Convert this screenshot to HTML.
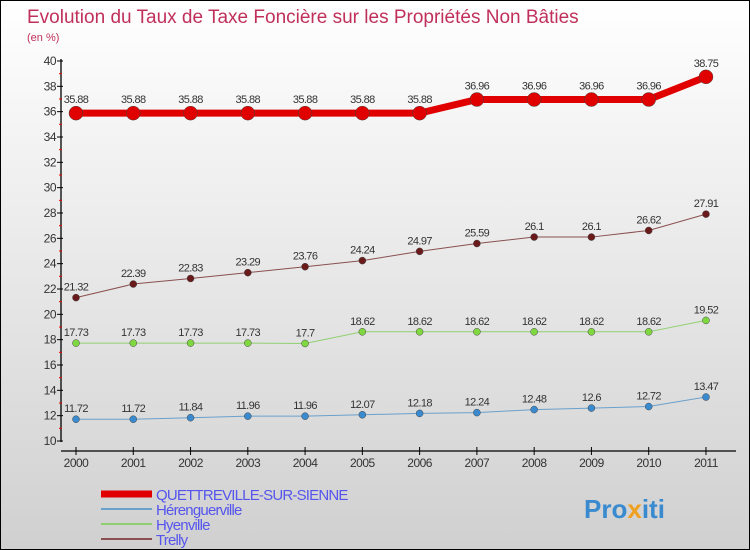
<!DOCTYPE html>
<html><head><meta charset="utf-8"><style>
body{margin:0}
#c{width:750px;height:550px;position:relative;box-sizing:border-box;border:1px solid #000;background:linear-gradient(#ffffff,#d0d0d0);font-family:"Liberation Sans",sans-serif;overflow:hidden}
svg{position:absolute;left:0;top:0}
</style></head><body>
<div id="c">
<svg id="s" width="750" height="550">
<text x="26" y="22" font-size="19" fill="#c0305a">Evolution du Taux de Taxe Foncière sur les Propriétés Non Bâties</text>
<text x="26" y="40" font-size="11" fill="#c0305a">(en %)</text>
<text x="583" y="517" font-size="26" font-weight="bold" fill="#3a8ad0">Pro<tspan fill="#f0a020">x</tspan>iti</text>
</svg>
</div>
<script>
const years=[2000,2001,2002,2003,2004,2005,2006,2007,2008,2009,2010,2011];
const names=["QUETTREVILLE-SUR-SIENNE","Hérenguerville","Hyenville","Trelly"];
const quettre=[35.88,35.88,35.88,35.88,35.88,35.88,35.88,36.96,36.96,36.96,36.96,38.75];
const heren=[11.72,11.72,11.84,11.96,11.96,12.07,12.18,12.24,12.48,12.6,12.72,13.47];
const hyen=[17.73,17.73,17.73,17.73,17.7,18.62,18.62,18.62,18.62,18.62,18.62,19.52];
const trelly=[21.32,22.39,22.83,23.29,23.76,24.24,24.97,25.59,26.1,26.1,26.62,27.91];
const yTicks=[10,12,14,16,18,20,22,24,26,28,30,32,34,36,38,40];
const NS="http://www.w3.org/2000/svg";
const s=document.getElementById('s');
const X=i=>75+i*57.27;
const Y=v=>440-(v-10)*12.667;
function mk(t,a,p){const e=document.createElementNS(NS,t);for(const k in a)e.setAttribute(k,a[k]);(p||s).appendChild(e);return e;}
// axes
let e=mk('line',{x1:60,y1:58,x2:60,y2:441,stroke:'#000','stroke-width':1.3});


e=mk('line',{x1:60,y1:450,x2:735,y2:450,stroke:'#000','stroke-width':1.3});


yTicks.forEach((v,i)=>{
  mk('line',{x1:56,y1:Y(v),x2:62,y2:Y(v),stroke:'#000'});
  mk('line',{x1:58,y1:Y(v+1),x2:61,y2:Y(v+1),stroke:'#e00'}).setAttribute('visibility',v<40?'visible':'hidden');
  const t=mk('text',{x:55,y:Y(v)+4,'font-size':12,fill:'#333','text-anchor':'end','letter-spacing':'-0.5'});
  t.textContent=v;
  
  
});
years.forEach((y,i)=>{
  mk('line',{x1:X(i),y1:446,x2:X(i),y2:454,stroke:'#000'});
  const t=mk('text',{x:X(i),y:466,'font-size':12,fill:'#333','text-anchor':'middle','letter-spacing':'-0.5'});
  t.textContent=y;
  
  
});
const series=[[trelly,'#6a1a1a','#8a5050',1,3.5,'trelly'],[hyen,'#80d840','#90d070',1,3.5,'hyenville'],[heren,'#3a8ad0','#6aa0cc',1,3.5,'herenguerville'],[quettre,'#e00000','#e00000',7,7,'quettreville']];
series.forEach(([d,dot,ln,w,r,n])=>{
  const p=mk('polyline',{points:d.map((v,i)=>X(i)+','+Y(v)).join(' '),fill:'none',stroke:ln,'stroke-width':w});
  
  
  d.forEach((v,i)=>{
    const c=mk('circle',{cx:X(i),cy:Y(v),r:r,fill:dot,stroke:'#444','stroke-width':0.5});
    
    
    const t=mk('text',{x:X(i),y:Y(v)-(n=='quettreville'?10:7),'font-size':11,fill:'#333','text-anchor':'middle','letter-spacing':'-0.6'});
    t.textContent=v;
    
    
  });
});
const lc=['#e00000','#6aa0cc','#90d070','#8a5050'],lw=[7,2,2,2];
names.forEach((n,i)=>{
  const y=493+i*15;
  mk('line',{x1:100,y1:y,x2:151,y2:y,stroke:lc[i],'stroke-width':lw[i]});
  const t=mk('text',{x:155,y:y+6,'font-size':15,fill:'#5555ee','letter-spacing':'-0.8'});
  t.textContent=n;
  
  
});
</script>
</body></html>
